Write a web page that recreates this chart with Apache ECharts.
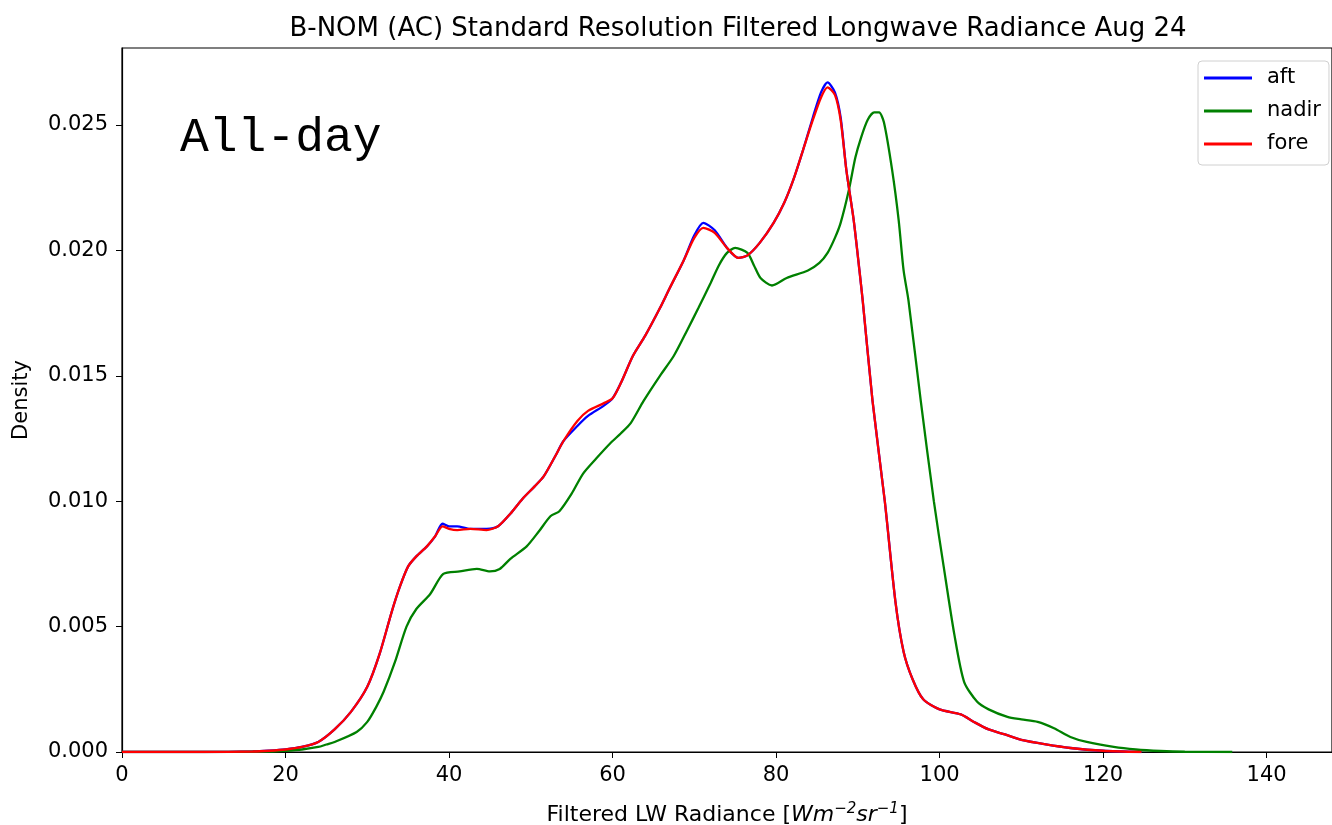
<!DOCTYPE html>
<html>
<head>
<meta charset="utf-8">
<script src="https://cdn.jsdelivr.net/npm/echarts@6/dist/echarts.min.js"></script>
<style>html,body{margin:0;padding:0;background:#fff}#c{width:1332px;height:825px}</style>
</head>
<body>
<div id="c"></div>
<script>
const seriesNames = ['aft', 'nadir', 'fore'];
const xTicks = [0, 20, 40, 60, 80, 100, 120, 140];
const yTicks = [0, 0.005, 0.010, 0.015, 0.020, 0.025];

const foreX = [0, 10, 16, 18, 20, 22, 24, 26, 28, 30, 31.5, 33, 34, 35, 36, 37.3, 38.3, 39.2, 40, 41, 42.6, 44.6, 46, 47.5, 49, 50.5, 51.6, 53, 54, 55.7, 57, 58.9, 60, 61, 62.5, 64, 65.8, 67, 68.7, 70, 71.1, 72.5, 74, 75.4, 76.5, 78, 79.7, 81, 82.1, 83.3, 84.5, 85.5, 86.3, 87.2, 87.9, 88.6, 89.5, 90.2, 90.6, 91.8, 93.3, 94.6, 95.6, 96.7, 98, 100, 102.6, 104.2, 106, 108, 110, 113, 116, 120, 124.7];
const foreY = [0, 0, 0.00002, 0.00005, 0.0001, 0.0002, 0.0004, 0.0009, 0.0016, 0.0026, 0.0039, 0.0056, 0.0066, 0.0074, 0.0078, 0.0082, 0.0086, 0.0090, 0.0089, 0.00885, 0.0089, 0.00885, 0.0090, 0.0095, 0.0101, 0.0106, 0.0110, 0.0118, 0.0124, 0.0132, 0.0136, 0.0139, 0.0141, 0.0147, 0.0158, 0.0166, 0.0177, 0.0185, 0.0196, 0.0205, 0.0209, 0.0207, 0.0201, 0.0197, 0.0198, 0.0203, 0.0211, 0.0219, 0.0228, 0.0240, 0.0252, 0.0261, 0.0265, 0.0262, 0.0252, 0.0232, 0.0212, 0.0192, 0.0180, 0.0140, 0.0100, 0.0060, 0.0040, 0.0029, 0.0021, 0.0017, 0.0015, 0.0012, 0.0009, 0.0007, 0.00048, 0.0003, 0.00016, 0.00005, 0];

const aftX = foreX;
const aftY = [0, 0, 0.00002, 0.00005, 0.0001, 0.0002, 0.0004, 0.0009, 0.0016, 0.0026, 0.0039, 0.0056, 0.0066, 0.0074, 0.0078, 0.0082, 0.0086, 0.0091, 0.0090, 0.0090, 0.0089, 0.0089, 0.0090, 0.0095, 0.0101, 0.0106, 0.0110, 0.0118, 0.0124, 0.0130, 0.0134, 0.0138, 0.0141, 0.0147, 0.0158, 0.0166, 0.0177, 0.0185, 0.0196, 0.0206, 0.0211, 0.0208, 0.0201, 0.0197, 0.0198, 0.0203, 0.0211, 0.0219, 0.0228, 0.0240, 0.0253, 0.0263, 0.0267, 0.0263, 0.0253, 0.0232, 0.0212, 0.0192, 0.0180, 0.0140, 0.0100, 0.0060, 0.0040, 0.0029, 0.0021, 0.0017, 0.0015, 0.0012, 0.0009, 0.0007, 0.00048, 0.0003, 0.00016, 0.00005, 0];

const nadirX = [0, 10, 18, 20, 22, 24, 25, 26, 28.7, 30, 31.1, 32, 33.4, 34.8, 36, 37.7, 39.3, 41.3, 43.4, 45, 46.2, 47.5, 49.5, 51, 52.4, 53.5, 55, 56.4, 58, 59.7, 61, 62.2, 63.8, 65.8, 67.5, 69.1, 70.5, 72, 73, 74, 75, 76.5, 77.3, 78.1, 79.5, 81.3, 83.9, 85.3, 86.3, 87.2, 87.9, 88.9, 89.7, 90.4, 91.2, 92, 92.6, 93.2, 94.2, 95, 95.6, 96.2, 97.7, 99.3, 100.5, 101.8, 103, 104.6, 106, 108.3, 110, 112, 114, 116, 118, 121.3, 124, 127, 130, 135.8];
const nadirY = [0, 0, 0.00002, 0.00005, 0.0001, 0.0002, 0.0003, 0.0004, 0.0008, 0.0012, 0.0018, 0.0024, 0.0036, 0.0050, 0.0057, 0.0063, 0.0071, 0.0072, 0.0073, 0.0072, 0.0073, 0.0077, 0.0082, 0.0088, 0.0094, 0.0096, 0.0103, 0.0111, 0.0117, 0.0123, 0.0127, 0.0131, 0.0140, 0.0150, 0.0158, 0.0168, 0.0177, 0.0187, 0.0194, 0.0199, 0.0201, 0.0199, 0.0194, 0.0189, 0.0186, 0.0189, 0.0192, 0.0195, 0.0199, 0.0205, 0.0211, 0.0224, 0.0237, 0.0245, 0.0252, 0.0255, 0.0255, 0.0251, 0.0232, 0.0212, 0.0192, 0.0180, 0.0140, 0.0100, 0.0074, 0.0047, 0.0028, 0.0020, 0.0017, 0.0014, 0.0013, 0.0012, 0.00095, 0.0006, 0.0004, 0.0002, 0.0001, 0.00004, 0.00001, 0];

const colors = {aft: '#0000ff', nadir: '#008000', fore: '#ff0000'};
const pairs = (xs, ys) => xs.map((x, i) => [x, ys[i]]);
const dataMap = {aft: pairs(aftX, aftY), nadir: pairs(nadirX, nadirY), fore: pairs(foreX, foreY)};

const FONT = 'DejaVu Sans';
const chart = echarts.init(document.getElementById('c'), null, {renderer: 'canvas'});
chart.setOption({
  animation: false,
  backgroundColor: '#fff',
  title: {
    text: 'B-NOM (AC) Standard Resolution Filtered Longwave Radiance Aug 24',
    left: 733, top: 11, textAlign: 'center',
    textStyle: {fontFamily: FONT, fontSize: 26, fontWeight: 'normal', color: '#000'}
  },
  grid: {left: 122, right: 0, top: 48, bottom: 73, show: true, borderColor: '#000', borderWidth: 1.2,
    backgroundColor: 'transparent', containLabel: false, outerBoundsMode: 'none'},
  legend: {
    data: seriesNames,
    orient: 'vertical', left: 1198, top: 61,
    icon: 'rect', itemWidth: 48, itemHeight: 3, itemGap: 11,
    padding: [6, 8, 10, 6],
    borderColor: '#d0d0d0', borderWidth: 1, borderRadius: 4, backgroundColor: '#fff',
    textStyle: {fontFamily: FONT, fontSize: 21, color: '#000', lineHeight: 22, padding: [0, 0, 0, 10]}
  },
  xAxis: {
    type: 'value', min: 0, max: 148,
    name: '{n|Filtered LW Radiance [}{i|Wm}{s|−2}{i|sr}{s|−1}{n|]}',
    nameLocation: 'middle', nameGap: 50,
    nameTextStyle: {
      rich: {
        n: {fontFamily: FONT, fontSize: 22, color: '#000'},
        i: {fontFamily: FONT, fontSize: 22, fontStyle: 'italic', color: '#000'},
        s: {fontFamily: FONT, fontSize: 15, fontStyle: 'italic', color: '#000', padding: [0, 0, 11, 0]}
      }
    },
    axisLine: {lineStyle: {color: '#000', width: 1.2}},
    axisTick: {show: true, length: 6, customValues: xTicks, lineStyle: {color: '#000'}},
    axisLabel: {customValues: xTicks, fontFamily: FONT, fontSize: 21, color: '#000', margin: 13},
    splitLine: {show: false}
  },
  yAxis: {
    type: 'value', min: 0, max: 0.02807,
    name: 'Density', nameLocation: 'middle', nameGap: 90, nameRotate: 90,
    nameTextStyle: {fontFamily: FONT, fontSize: 21, color: '#000'},
    axisLine: {show: true, lineStyle: {color: '#000', width: 1.2}},
    axisTick: {show: true, length: 6, customValues: yTicks, lineStyle: {color: '#000'}},
    axisLabel: {customValues: yTicks, fontFamily: FONT, fontSize: 21, color: '#000', margin: 14,
      formatter: v => v.toFixed(3)},
    splitLine: {show: false}
  },
  graphic: [{
    type: 'text', left: 180, top: 114,
    style: {text: 'All-day', font: '48px "Liberation Mono"', fill: '#000'}
  }],
  series: seriesNames.map(n => ({
    name: n, type: 'line', data: dataMap[n],
    showSymbol: false, smooth: 0.25,
    lineStyle: {color: colors[n], width: 2.3},
    itemStyle: {color: colors[n]}
  }))
});
</script>
</body>
</html>
